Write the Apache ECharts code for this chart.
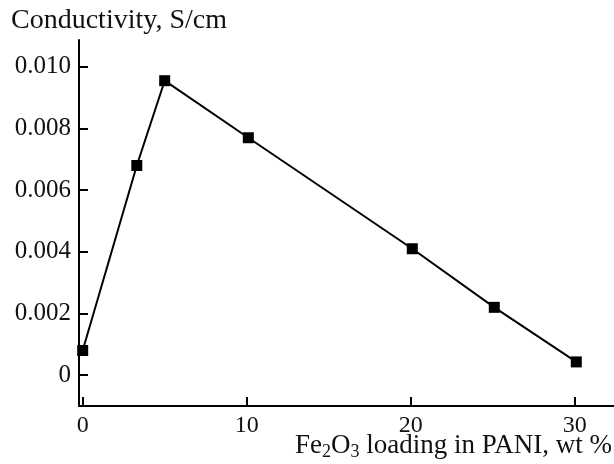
<!DOCTYPE html>
<html>
<head>
<meta charset="utf-8">
<script src="https://cdn.jsdelivr.net/npm/echarts@6/dist/echarts.min.js"></script>
<style>
  html, body { margin: 0; padding: 0; background: #fff; }
  #main { width: 614px; height: 464px; }
</style>
</head>
<body>
<div id="main"></div>
<script>
var myChart = echarts.init(document.getElementById('main'));

// Fe2O3 loading, wt %
var loading = [0, 3.3, 5, 10.1, 20.1, 25.1, 30.1];
// conductivity, S/cm
var conductivity = [0.0008, 0.0068, 0.00955, 0.0077, 0.0041, 0.0022, 0.00043];
var xTicks = [0, 10, 20, 30];
var yTicks = [0, 0.002, 0.004, 0.006, 0.008, 0.010];

var points = loading.map(function (x, i) { return [x, conductivity[i]]; });
var font = '"Liberation Serif", "DejaVu Serif", serif';

option = {
    animation: false,
    textStyle: { fontFamily: font },
    grid: { left: 79, right: 0, top: 40, bottom: 58 },
    graphic: [{
        type: 'text',
        left: 11,
        top: 7,
        style: { text: 'Conductivity, S/cm', font: '28px ' + font, fill: '#111' }
    }, {
        type: 'text',
        right: 2,
        top: 432,
        style: {
            text: 'Fe{s|2}O{s|3} loading in PANI, wt %',
            font: '27px ' + font,
            fill: '#111',
            rich: {
                s: { fontSize: 18, fontFamily: font, padding: [14, 0, 0, 0] }
            }
        }
    }],
    xAxis: {
        type: 'value',
        min: -0.225,
        max: 32.4,
        axisLine: { onZero: false, lineStyle: { color: '#000', width: 2 } },
        axisTick: { inside: true, length: 9, lineStyle: { color: '#000', width: 2 }, customValues: xTicks },
        axisLabel: { customValues: xTicks, color: '#111', fontSize: 24, fontFamily: font, margin: 8 },
        splitLine: { show: false }
    },
    yAxis: {
        type: 'value',
        min: -0.001,
        max: 0.01087,
        axisLine: { show: true, onZero: false, lineStyle: { color: '#000', width: 2 } },
        axisTick: { show: true, inside: true, length: 9, lineStyle: { color: '#000', width: 2 }, customValues: yTicks },
        axisLabel: {
            customValues: yTicks,
            color: '#111', fontSize: 25, fontFamily: font, margin: 8,
            formatter: function (v) { return v === 0 ? '0' : v.toFixed(3); }
        },
        splitLine: { show: false }
    },
    series: [{
        type: 'line',
        data: points,
        symbol: 'rect',
        symbolSize: 11,
        itemStyle: { color: '#000' },
        lineStyle: { color: '#000', width: 2 },
        clip: false
    }]
};

myChart.setOption(option);
</script>
</body>
</html>
